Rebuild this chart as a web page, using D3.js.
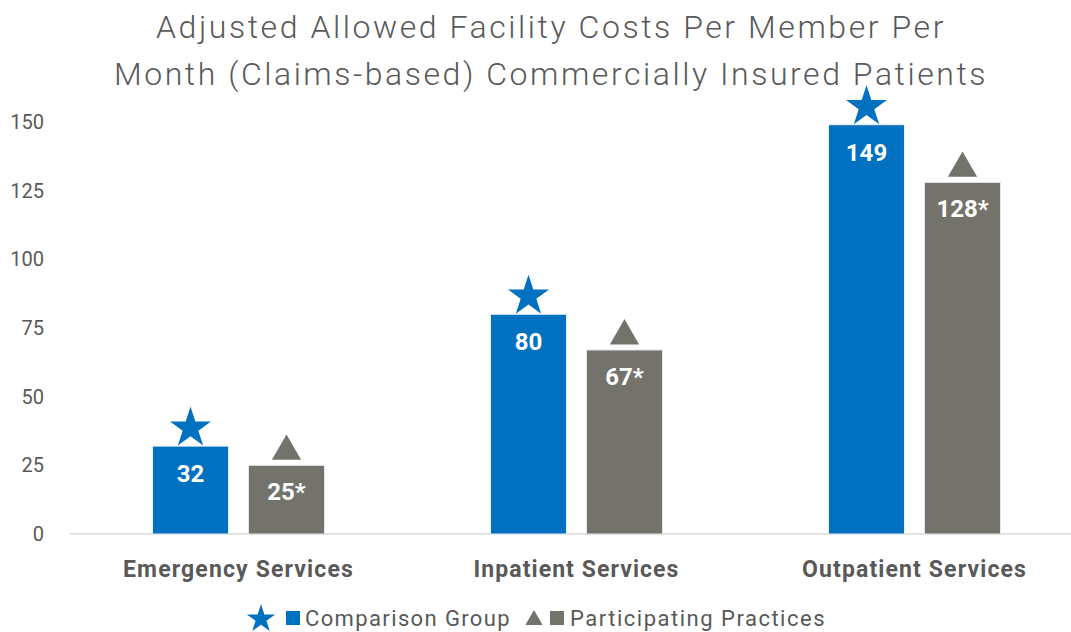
<!DOCTYPE html>
<html>
<head>
<meta charset="utf-8">
<script src="https://cdn.jsdelivr.net/npm/d3@7"></script>
<style>
  body { margin: 0; background: #fff; }
  text { font-family: Roboto, "Noto Sans", sans-serif; }
</style>
</head>
<body>
<div id="chart"></div>
<script>
// data
var categories = ["Emergency Services", "Inpatient Services", "Outpatient Services"];
var comparison = [32, 80, 149];
var participating = [25, 67, 128];
var participatingLabels = ["25*", "67*", "128*"];
var yTicks = [0, 25, 50, 75, 100, 125, 150];
var seriesNames = ["Comparison Group", "Participating Practices"];
var titleLines = ["Adjusted Allowed Facility Costs Per Member Per",
                  "Month (Claims-based) Commercially Insured Patients"];

var W = 1071, H = 632;
var blue = "#0070C0", gray = "#74736B", textGray = "#595959";

var svg = d3.select("#chart").append("svg")
    .attr("width", W)
    .attr("height", H);

// stretch a text's letter spacing so it spans the given width
function fitWidth(sel, width) {
  sel.each(function() {
    var len = this.getComputedTextLength();
    var n = this.textContent.length;
    d3.select(this).style("letter-spacing", ((width - len) / n) + "px");
  });
}

// scales
var xScale = d3.scaleBand().domain(categories).range([69.5, 1083.5]);
var yScale = d3.scaleLinear().domain([0, 150]).range([534, 122]);
var barW = 76, gap = 20;

// title
var titleWidths = [790, 874];
svg.selectAll(".title")
    .data(titleLines)
  .enter().append("text")
    .attr("x", 551)
    .attr("y", function(d, i) { return 38 + i * 47; })
    .attr("text-anchor", "middle")
    .style("font-size", "32px")
    .style("font-weight", 300)
    .style("fill", textGray)
    .text(function(d) { return d; })
    .each(function(d, i) { fitWidth(d3.select(this), titleWidths[i]); });

// y axis labels
svg.selectAll(".ytick")
    .data(yTicks)
  .enter().append("text")
    .attr("x", 44)
    .attr("y", function(d) { return yScale(d) + 7; })
    .attr("text-anchor", "end")
    .style("font-size", "20px")
    .style("fill", textGray)
    .text(function(d) { return d; });

// baseline
svg.append("line")
    .attr("x1", 70).attr("x2", W)
    .attr("y1", yScale(0)).attr("y2", yScale(0))
    .style("stroke", "#d9d9d9")
    .style("stroke-width", 1.5);

var star = d3.symbol().type(d3.symbolStar).size(520);
var tri = d3.symbol().type(d3.symbolTriangle).size(370);
var catWidths = [231, 206, 225];

categories.forEach(function(c, i) {
  var cx = xScale(c) + xScale.bandwidth() / 2;
  var xb = cx - gap / 2 - barW, xg = cx + gap / 2;
  var yb = yScale(comparison[i]), yg = yScale(participating[i]);

  svg.append("rect")
      .attr("x", xb).attr("y", yb)
      .attr("width", barW).attr("height", yScale(0) - yb)
      .style("fill", blue).style("stroke", "#e8eef5").style("stroke-width", 1);
  svg.append("rect")
      .attr("x", xg).attr("y", yg)
      .attr("width", barW).attr("height", yScale(0) - yg)
      .style("fill", gray).style("stroke", "#e6e6e6").style("stroke-width", 1);

  svg.append("path")
      .attr("d", star)
      .attr("transform", "translate(" + (xb + barW / 2) + "," + (yb - 18) + ")")
      .style("fill", blue);
  svg.append("path")
      .attr("d", tri)
      .attr("transform", "translate(" + (xg + barW / 2) + "," + (yg - 14) + ")")
      .style("fill", gray);

  svg.append("text")
      .attr("x", xb + barW / 2).attr("y", yb + 36)
      .attr("text-anchor", "middle")
      .style("font-size", "24px").style("font-weight", 700).style("fill", "#fff")
      .text(comparison[i]);
  svg.append("text")
      .attr("x", xg + barW / 2).attr("y", yg + 35)
      .attr("text-anchor", "middle")
      .style("font-size", "24px").style("font-weight", 700).style("fill", "#fff")
      .text(participatingLabels[i]);

  svg.append("text")
      .attr("x", cx).attr("y", 577)
      .attr("text-anchor", "middle")
      .style("font-size", "23px").style("font-weight", 700).style("fill", textGray)
      .text(c)
      .call(fitWidth, catWidths[i]);
});

// legend
var leg = svg.append("g");
leg.append("path").attr("d", d3.symbol().type(d3.symbolStar).size(250))
    .attr("transform", "translate(261,619)").style("fill", blue);
leg.append("rect").attr("x", 286).attr("y", 611).attr("width", 14).attr("height", 14)
    .style("fill", blue);
leg.append("text").attr("x", 305).attr("y", 626)
    .style("font-size", "22px").style("fill", textGray).text(seriesNames[0])
    .call(fitWidth, 206);
leg.append("path").attr("d", d3.symbol().type(d3.symbolTriangle).size(130))
    .attr("transform", "translate(534,620)").style("fill", gray);
leg.append("rect").attr("x", 550).attr("y", 611).attr("width", 14).attr("height", 14)
    .style("fill", gray);
leg.append("text").attr("x", 570).attr("y", 626)
    .style("font-size", "22px").style("fill", textGray).text(seriesNames[1])
    .call(fitWidth, 256);
</script>
</body>
</html>
